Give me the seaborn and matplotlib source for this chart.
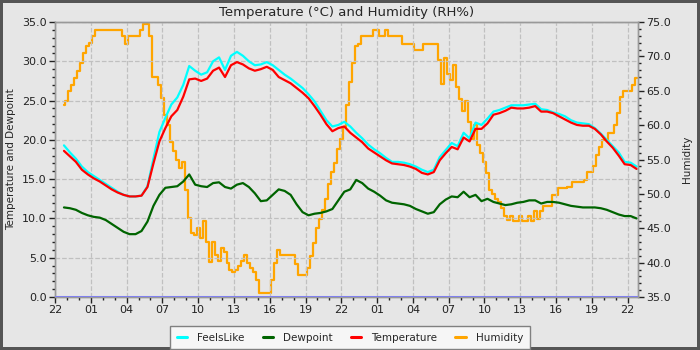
import pandas as pd
import seaborn as sns
import matplotlib.pyplot as plt
import matplotlib.dates as mdates
from matplotlib.ticker import MultipleLocator, FormatStrFormatter
from matplotlib.lines import Line2D

# first reading 22:45, temp/feels/dew every 30 min, humidity every 15 min
start = pd.Timestamp('2024-06-01 22:45')
x_min = pd.Timestamp('2024-06-01 22:00')
x_max = pd.Timestamp('2024-06-03 22:52')

temperature = [
    18.6, 17.9, 17.2, 16.2, 15.6, 15.1,
    14.7, 14.2, 13.7, 13.3, 13.0, 12.8,
    12.8, 12.9, 14.0, 17.0, 19.8, 21.5,
    23.0, 23.8, 25.5, 27.7, 27.8, 27.5,
    27.8, 28.8, 29.2, 28.0, 29.5, 29.9,
    29.6, 29.1, 28.8, 29.0, 29.3, 28.9,
    28.0, 27.6, 27.2, 26.6, 26.0, 25.3,
    24.3, 23.2, 22.0, 21.1, 21.5, 21.7,
    20.9, 20.3, 19.7, 18.9, 18.4, 17.9,
    17.4, 17.0, 16.9, 16.8, 16.6, 16.3,
    15.8, 15.6, 15.9, 17.4, 18.3, 19.1,
    18.8, 20.3, 19.8, 21.4, 21.4, 22.1,
    23.2, 23.4, 23.7, 24.1, 24.0, 24.0,
    24.1, 24.3, 23.6, 23.6, 23.4, 23.0,
    22.6, 22.2, 21.9, 21.8, 21.8, 21.4,
    20.7, 19.8, 19.0, 18.0, 16.9, 16.8,
    16.3,
]

feels_like = [
    19.3, 18.4, 17.6, 16.6, 15.9, 15.4,
    14.9, 14.4, 13.9, 13.4, 13.0, 12.8,
    12.8, 12.9, 14.1, 17.6, 21.0, 22.8,
    24.5, 25.4, 27.0, 29.4, 28.8, 28.3,
    28.6, 30.0, 30.5, 28.9, 30.7, 31.2,
    30.7, 30.0, 29.5, 29.6, 29.9, 29.5,
    28.9, 28.3, 27.8, 27.2, 26.6, 25.8,
    24.9, 23.7, 22.5, 21.7, 21.9, 22.3,
    21.7, 20.9, 20.2, 19.4, 18.8, 18.3,
    17.7, 17.2, 17.2, 17.1, 16.9, 16.6,
    16.2, 15.9, 16.2, 17.8, 18.7, 19.6,
    19.2, 20.9, 20.2, 22.2, 21.9, 22.7,
    23.6, 23.8, 24.1, 24.4, 24.4, 24.4,
    24.5, 24.6, 23.9, 23.8, 23.5, 23.3,
    23.0, 22.5, 22.2, 22.1, 22.0, 21.5,
    20.8, 20.0, 19.2, 18.4, 17.2, 17.1,
    16.6,
]

dewpoint = [
    11.4, 11.3, 11.1, 10.7, 10.4, 10.2,
    10.1, 9.8, 9.3, 8.8, 8.3, 8.0,
    8.0, 8.4, 9.6, 11.6, 13.0, 13.9,
    14.0, 14.1, 14.7, 15.6, 14.3, 14.1,
    14.0, 14.5, 14.6, 14.0, 13.8, 14.3,
    14.5, 14.0, 13.2, 12.2, 12.3, 13.0,
    13.7, 13.5, 13.0, 11.8, 10.8, 10.4,
    10.6, 10.7, 10.9, 11.2, 12.3, 13.4,
    13.7, 14.9, 14.5, 13.8, 13.4, 12.9,
    12.3, 12.0, 11.9, 11.8, 11.6, 11.2,
    10.9, 10.6, 10.8, 11.8, 12.4, 12.8,
    12.7, 13.4, 12.7, 13.0, 12.2, 12.5,
    12.1, 11.9, 11.7, 11.8, 12.0, 12.1,
    12.3, 12.3, 11.9, 12.1, 12.1, 12.0,
    11.8, 11.6, 11.5, 11.4, 11.4, 11.4,
    11.3, 11.1, 10.8, 10.5, 10.3, 10.3,
    10.0,
]

humidity = [
    62.9, 63.5, 65.0, 65.8, 66.8, 67.9, 69.0, 70.5, 71.5, 72.0, 72.9, 73.8,
    73.8, 73.8, 73.8, 73.8, 73.8, 73.8, 73.8, 73.8, 72.9, 71.8, 72.9, 72.9,
    72.9, 72.9, 73.8, 74.7, 74.7, 72.9, 67.0, 67.0, 65.8, 63.9, 61.5, 60.0,
    57.6, 56.2, 55.0, 53.8, 54.7, 50.5, 46.5, 44.3, 44.0, 45.0, 43.6, 46.0,
    43.0, 40.1, 43.0, 41.1, 40.3, 42.1, 41.5, 40.0, 39.0, 38.7, 38.9, 39.5,
    40.2, 41.1, 40.0, 39.2, 38.7, 37.5, 35.6, 35.6, 35.6, 35.6, 37.5, 40.0,
    41.8, 41.1, 41.1, 41.1, 41.1, 41.1, 39.8, 38.2, 38.2, 38.2, 39.2, 41.0,
    42.8, 45.0, 46.3, 47.6, 49.3, 51.5, 53.2, 54.5, 56.5, 58.0, 59.8, 63.0,
    66.3, 69.0, 71.5, 71.8, 72.9, 72.9, 72.9, 72.9, 73.8, 73.8, 72.9, 72.9,
    73.8, 72.9, 72.9, 72.9, 72.9, 72.9, 71.8, 71.8, 71.8, 71.8, 70.9, 70.9,
    70.9, 71.8, 71.8, 71.8, 71.8, 71.8, 69.5, 66.0, 69.7, 67.5, 66.5, 68.7,
    65.5, 63.8, 62.0, 63.5, 60.5, 58.0, 60.0, 57.1, 56.0, 54.7, 53.0, 50.5,
    50.0, 49.3, 48.8, 48.0, 46.8, 46.2, 46.8, 46.0, 46.0, 46.8, 46.0, 46.0,
    46.8, 46.0, 47.5, 46.3, 47.5, 48.3, 48.3, 48.3, 49.8, 49.8, 50.8, 50.8,
    50.8, 51.0, 51.0, 51.7, 51.7, 51.7, 51.7, 52.0, 53.2, 53.2, 54.0, 55.6,
    56.8, 57.8, 57.8, 58.9, 58.9, 60.0, 61.8, 64.1, 65.0, 65.0, 65.0, 65.8,
    66.8,
]


def frame(values, step):
    return pd.DataFrame({'time': pd.date_range(start, periods=len(values), freq=step),
                         'value': values})


bg = '#e6e6e6'
sns.set_theme(style='ticks', rc={'axes.facecolor': bg, 'figure.facecolor': bg,
                                 'axes.edgecolor': '#999999', 'axes.linewidth': 1.0,
                                 'xtick.color': '#222222', 'ytick.color': '#222222'})
plt.rcParams['font.family'] = ['DejaVu Sans']

fig = plt.figure(figsize=(7, 3.5), dpi=100, facecolor=bg, edgecolor='#555555', linewidth=3)
ax = fig.add_axes([0.0786, 0.1514, 0.8328, 0.7857])
ax2 = ax.twinx()
# temperature lines drawn above humidity
ax.set_zorder(ax2.get_zorder() + 1)
ax.patch.set_visible(False)
ax2.set_facecolor(bg)

colors = {'FeelsLike': '#00ffff', 'Dewpoint': '#006400',
          'Temperature': '#ff0000', 'Humidity': '#ffa500'}

sns.lineplot(data=frame(humidity, '15min'), x='time', y='value', ax=ax2,
             color=colors['Humidity'], lw=1.6, drawstyle='steps-mid')
sns.lineplot(data=frame(feels_like, '30min'), x='time', y='value', ax=ax,
             color=colors['FeelsLike'], lw=1.6)
sns.lineplot(data=frame(dewpoint, '30min'), x='time', y='value', ax=ax,
             color=colors['Dewpoint'], lw=1.6)
sns.lineplot(data=frame(temperature, '30min'), x='time', y='value', ax=ax,
             color=colors['Temperature'], lw=1.6)
ax.axhline(0, color='#8080ee', lw=2.2, zorder=5)

ax.set_xlim(x_min, x_max)
ax.set_ylim(0, 35)
ax2.set_ylim(35, 75)

ax.xaxis.set_major_locator(mdates.HourLocator(byhour=range(1, 24, 3)))
ax.xaxis.set_minor_locator(mdates.HourLocator())
ax.xaxis.set_major_formatter(mdates.DateFormatter('%H'))
for a in (ax, ax2):
    a.yaxis.set_major_locator(MultipleLocator(5))
    a.yaxis.set_minor_locator(MultipleLocator(1))
    a.yaxis.set_major_formatter(FormatStrFormatter('%.1f'))
    a.tick_params(which='major', length=4, width=1, labelsize=8, pad=2)
    a.tick_params(which='minor', length=2.5, width=1)
    a.set_xlabel('')
    for s in a.spines.values():
        s.set_color('#999999')

ax.grid(True, which='major', color='#c0c0c0', linestyle='--', linewidth=0.9)
ax2.grid(False)

ax.set_ylabel('Temperature and Dewpoint', fontsize=7.5)
ax2.set_ylabel('Humidity', fontsize=7.5)
ax.yaxis.set_label_coords(-0.066, 0.5)
ax2.yaxis.set_label_coords(1.076, 0.5)
ax.set_title('Temperature (°C) and Humidity (RH%)', fontsize=9.5, pad=4)

handles = [Line2D([], [], color=c, lw=2.2) for c in colors.values()]
fig.legend(handles, list(colors.keys()), loc='lower center', bbox_to_anchor=(0.5, -0.012),
           ncol=4, fontsize=7.5, handlelength=1.0, columnspacing=1.7, handletextpad=1.0,
           frameon=True, fancybox=False, edgecolor='#808080', facecolor='#f6f6f6',
           framealpha=1, borderpad=0.6)

fig.savefig('out.png', dpi=100, facecolor=fig.get_facecolor(), edgecolor=fig.get_edgecolor())
